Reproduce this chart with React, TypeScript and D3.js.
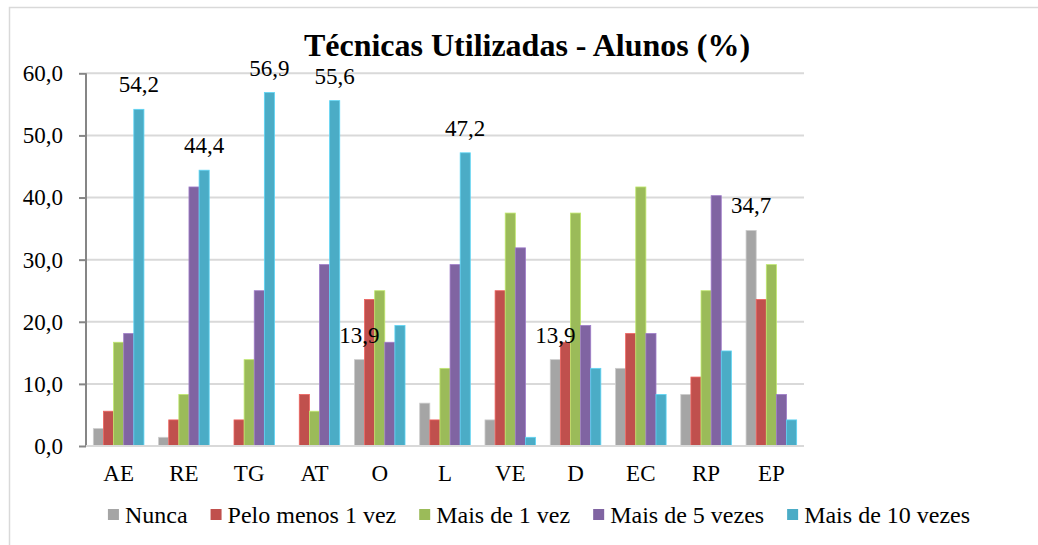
import React, { useRef, useEffect } from 'react';
import * as d3 from 'd3';

// categories (techniques)
const categories = ['AE', 'RE', 'TG', 'AT', 'O', 'L', 'VE', 'D', 'EC', 'RP', 'EP'];

// series names and colours
const seriesNames = ['Nunca', 'Pelo menos 1 vez', 'Mais de 1 vez', 'Mais de 5 vezes', 'Mais de 10 vezes'];
const seriesColors = ['#a5a5a5', '#c0504d', '#9bbb59', '#8064a2', '#4bacc6'];

// values per series, in the order of categories
const nunca = [2.8, 1.4, 0, 0, 13.9, 6.9, 4.2, 13.9, 12.5, 8.3, 34.7];
const peloMenos1 = [5.6, 4.2, 4.2, 8.3, 23.6, 4.2, 25.0, 16.7, 18.1, 11.1, 23.6];
const mais1 = [16.7, 8.3, 13.9, 5.6, 25.0, 12.5, 37.5, 37.5, 41.7, 25.0, 29.2];
const mais5 = [18.1, 41.7, 25.0, 29.2, 16.7, 29.2, 31.9, 19.4, 18.1, 40.3, 8.3];
const mais10 = [54.2, 44.4, 56.9, 55.6, 19.4, 47.2, 1.4, 12.5, 8.3, 15.3, 4.2];

// bars that carry a data label: [category, series index]
const labelled: [string, number][] = [
  ['AE', 4], ['RE', 4], ['TG', 4], ['AT', 4], ['O', 0], ['L', 4], ['D', 0], ['EP', 0],
];

const yTicks = [0, 10, 20, 30, 40, 50, 60];

const W = 1038;
const H = 545;
const FONT = '"Liberation Serif", "Times New Roman", serif';

const fmt = (v: number) => v.toFixed(1).replace('.', ',');

const App = () => {
  const ref = useRef<SVGSVGElement>(null);

  useEffect(() => {
    const svg = d3.select(ref.current);
    svg.selectAll('*').remove();

    const values = [nunca, peloMenos1, mais1, mais5, mais10];
    const plot = { left: 86, right: 804, top: 73.3, bottom: 446 };

    const x0 = d3
      .scaleBand()
      .domain(categories)
      .range([plot.left, plot.right])
      .paddingInner(0.225)
      .paddingOuter(0.1125);

    const x1 = d3
      .scaleBand()
      .domain(seriesNames)
      .range([0, x0.bandwidth()]);

    const y = d3.scaleLinear().domain([0, 60]).range([plot.bottom, plot.top]);

    // chart border
    svg
      .append('rect')
      .attr('x', 9.5)
      .attr('y', 7.5)
      .attr('width', W)
      .attr('height', H)
      .attr('fill', '#fff')
      .attr('stroke', '#d9d9d9')
      .attr('stroke-width', 1.5);

    // title
    svg
      .append('text')
      .attr('x', 527)
      .attr('y', 56)
      .attr('text-anchor', 'middle')
      .attr('font-family', FONT)
      .attr('font-weight', 'bold')
      .attr('font-size', 32)
      .attr('fill', '#000')
      .text('Técnicas Utilizadas - Alunos (%)');

    // horizontal grid
    svg
      .append('g')
      .selectAll('line')
      .data(yTicks.slice(1))
      .enter()
      .append('line')
      .attr('x1', plot.left)
      .attr('x2', plot.right)
      .attr('y1', (d) => y(d))
      .attr('y2', (d) => y(d))
      .attr('stroke', '#d9d9d9')
      .attr('stroke-width', 2);

    // bars
    const groups = svg
      .append('g')
      .selectAll('g')
      .data(categories)
      .enter()
      .append('g')
      .attr('transform', (c) => `translate(${x0(c)},0)`);

    groups
      .selectAll('rect')
      .data((c) => values.map((s, k) => ({ k, v: s[categories.indexOf(c)] })))
      .enter()
      .append('rect')
      .attr('x', (d) => x1(seriesNames[d.k])!)
      .attr('width', x1.bandwidth())
      .attr('y', (d) => y(d.v))
      .attr('height', (d) => y(0) - y(d.v))
      .attr('fill', (d) => seriesColors[d.k])
      .attr('stroke', (d) => d3.color(seriesColors[d.k])!.brighter(0.6).formatHex())
      .attr('stroke-width', (d) => (d.v > 0 ? 0.8 : 0));

    // y axis
    const yAxis = svg
      .append('g')
      .attr('transform', `translate(${plot.left},0)`)
      .call(d3.axisLeft(y).tickValues(yTicks).tickSize(7).tickFormat((d) => fmt(+d)));
    yAxis.select('.domain').attr('stroke', '#868686').attr('stroke-width', 2).attr('d', `M0,${plot.top}V${plot.bottom}`);
    yAxis.selectAll('.tick line').attr('stroke', '#868686').attr('stroke-width', 2);
    yAxis
      .selectAll('.tick text')
      .attr('font-family', FONT)
      .attr('font-size', 23)
      .attr('fill', '#000')
      .attr('x', -23);

    // x axis baseline
    svg
      .append('line')
      .attr('x1', plot.left)
      .attr('x2', plot.right)
      .attr('y1', plot.bottom)
      .attr('y2', plot.bottom)
      .attr('stroke', '#d9d9d9')
      .attr('stroke-width', 2);

    // category labels
    svg
      .append('g')
      .selectAll('text')
      .data(categories)
      .enter()
      .append('text')
      .attr('x', (c) => x0(c)! + x0.bandwidth() / 2)
      .attr('y', 481)
      .attr('text-anchor', 'middle')
      .attr('font-family', FONT)
      .attr('font-size', 23)
      .attr('fill', '#000')
      .text((c) => c);

    // data labels
    svg
      .append('g')
      .selectAll('text')
      .data(labelled)
      .enter()
      .append('text')
      .attr('x', ([c, k]) => x0(c)! + x1(seriesNames[k])! + x1.bandwidth() / 2)
      .attr('y', ([c, k]) => y(values[k][categories.indexOf(c)]) - 17)
      .attr('text-anchor', 'middle')
      .attr('font-family', FONT)
      .attr('font-size', 23)
      .attr('fill', '#000')
      .text(([c, k]) => fmt(values[k][categories.indexOf(c)]));

    // legend, laid out from measured text widths
    const legend = svg.append('g').attr('font-family', FONT).attr('font-size', 24);
    const items = legend
      .selectAll('g')
      .data(seriesNames)
      .enter()
      .append('g');
    items
      .append('rect')
      .attr('width', 11)
      .attr('height', 11)
      .attr('y', -14)
      .attr('fill', (d, i) => seriesColors[i]);
    items
      .append('text')
      .attr('x', 17)
      .attr('fill', '#000')
      .text((d) => d);

    const widths: number[] = [];
    items.each(function () {
      const t = d3.select(this).select('text').node() as SVGTextElement;
      widths.push(17 + t.getComputedTextLength());
    });
    const gap = 23;
    const total = d3.sum(widths) + gap * (widths.length - 1);
    let cx = 539 - total / 2;
    items.attr('transform', (d, i) => {
      const tx = cx;
      cx += widths[i] + gap;
      return `translate(${tx},523)`;
    });
  }, []);

  return (
    <svg
      ref={ref}
      width={W}
      height={H}
      style={{ position: 'absolute', left: 0, top: 0, background: '#fff' }}
    />
  );
};

export default App;
